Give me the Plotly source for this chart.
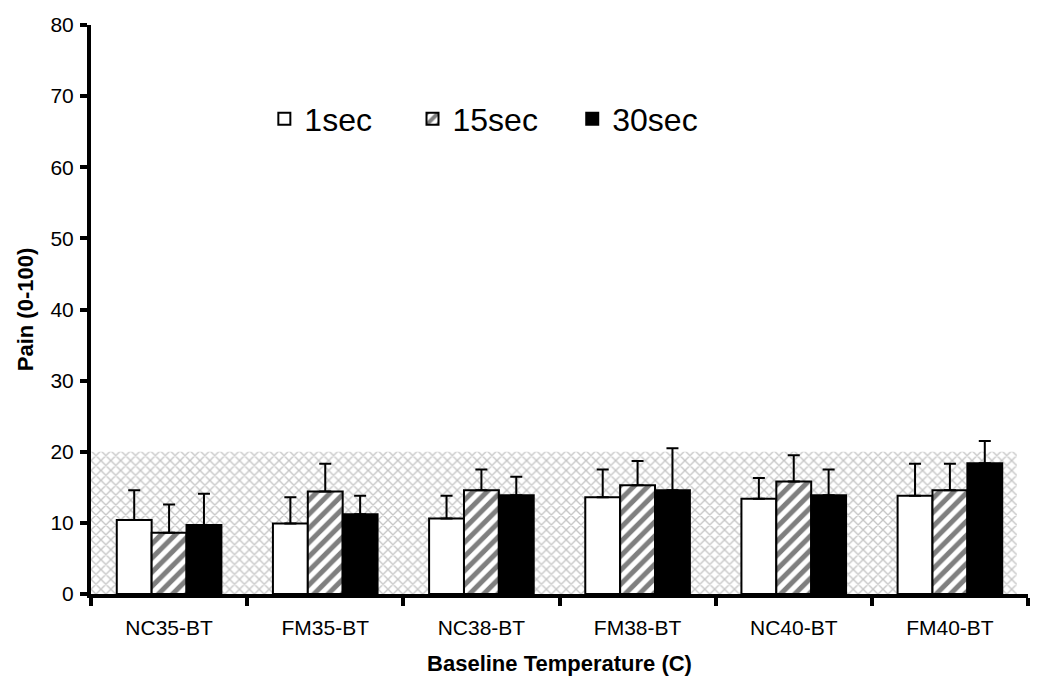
import plotly.graph_objects as go

categories = ["NC35-BT", "FM35-BT", "NC38-BT", "FM38-BT", "NC40-BT", "FM40-BT"]
series_names = ["1sec", "15sec", "30sec"]
mean_1s = [10.4, 9.9, 10.6, 13.6, 13.4, 13.8]
mean_15s = [8.6, 14.4, 14.6, 15.3, 15.8, 14.6]
mean_30s = [9.7, 11.2, 13.9, 14.6, 13.9, 18.4]
err_1s = [4.2, 3.7, 3.2, 3.9, 2.9, 4.5]
err_15s = [4.0, 3.9, 2.9, 3.4, 3.7, 3.7]
err_30s = [4.4, 2.6, 2.6, 5.9, 3.6, 3.1]
ref_band_top = 20
y_ticks = [0, 10, 20, 30, 40, 50, 60, 70, 80]

fig = go.Figure()

# shaded reference band (0-20)
fig.add_trace(go.Bar(
    x=[0.494], y=[ref_band_top], width=[0.988], base=0,
    xaxis="x", yaxis="y", showlegend=False, hoverinfo="skip",
    marker=dict(color="white", line=dict(width=0),
                pattern=dict(shape="x", fgcolor="#8c8c8c", bgcolor="white",
                             size=7, solidity=0.35)),
))

styles = [
    dict(color="white", line=dict(color="black", width=2)),
    dict(color="white", line=dict(color="black", width=2),
         pattern=dict(shape="/", fgcolor="black", bgcolor="white", size=10, solidity=0.5)),
    dict(color="black", line=dict(color="black", width=2)),
]
legend_names = [series_names[0] + "\u00a0" * 4,
                series_names[1] + "\u00a0" * 3 + "\u200a",
                series_names[2]]
means = [mean_1s, mean_15s, mean_30s]
errs = [err_1s, err_15s, err_30s]
for name, m, e, st in zip(legend_names, means, errs, styles):
    fig.add_trace(go.Bar(
        x=categories, y=m, name=name, xaxis="x2", yaxis="y",
        marker=st,
        error_y=dict(type="data", array=e, arrayminus=[0] * len(e), symmetric=False,
                     color="black", thickness=2, width=6),
    ))

fig.update_layout(
    width=1050, height=691,
    margin=dict(l=91, r=22, t=25, b=97),
    paper_bgcolor="white", plot_bgcolor="white",
    barmode="group", bargap=0.33, bargroupgap=0,
    font=dict(family="Arial, Liberation Sans, sans-serif", color="black", size=21),
    xaxis=dict(range=[0, 1], visible=False, showgrid=False, zeroline=False),
    xaxis2=dict(
        overlaying="x", anchor="y", side="bottom", type="category",
        showline=True, linecolor="black", linewidth=4,
        ticks="outside", tickson="boundaries", ticklen=8, tickwidth=4, tickcolor="black",
        showgrid=False, zeroline=False,
        tickfont=dict(size=21), ticklabelstandoff=12,
        title=dict(text="<b>Baseline Temperature (C)</b>", font=dict(size=22), standoff=18),
    ),
    yaxis=dict(
        range=[0, 80], tickvals=y_ticks,
        showline=True, linecolor="black", linewidth=4,
        ticks="outside", ticklen=7, tickwidth=4, tickcolor="black",
        showgrid=False, zeroline=False,
        tickfont=dict(size=21), ticklabelstandoff=2,
        title=dict(text="<b>Pain (0-100)</b>", font=dict(size=22), standoff=12),
    ),
    legend=dict(
        orientation="h", x=0.185, y=0.835, xanchor="left", yanchor="middle",
        font=dict(size=32), bgcolor="rgba(0,0,0,0)",
    ),
)

fig.write_html("out.html", config={"displayModeBar": False},
               post_script="document.body.style.margin='0';")
